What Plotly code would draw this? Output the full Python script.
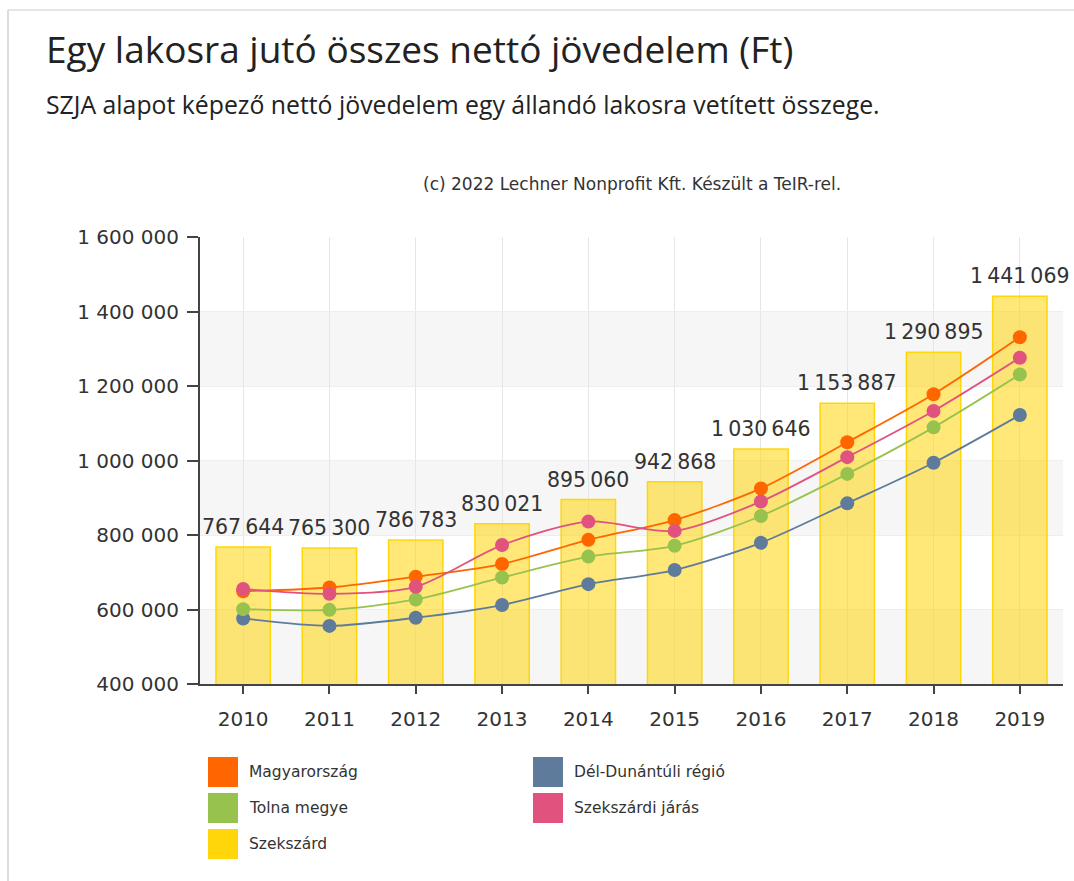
import plotly.graph_objects as go

years = ["2010", "2011", "2012", "2013", "2014", "2015", "2016", "2017", "2018", "2019"]
szekszard = [767644, 765300, 786783, 830021, 895060, 942868, 1030646, 1153887, 1290895, 1441069]
magyarorszag = [649000, 659000, 688000, 722000, 787000, 840000, 925000, 1049000, 1178000, 1331000]
del_dunantul = [576000, 556000, 578000, 612000, 668000, 706000, 779000, 885000, 994000, 1122000]
tolna = [601000, 599000, 627000, 686000, 742000, 771000, 851000, 964000, 1089000, 1231000]
szekszardi_jaras = [655000, 642000, 661000, 773000, 836000, 811000, 890000, 1009000, 1133000, 1276000]

y_ticks = [400000, 600000, 800000, 1000000, 1200000, 1400000, 1600000]

title = "Egy lakosra jutó összes nettó jövedelem (Ft)"
subtitle = "SZJA alapot képező nettó jövedelem egy állandó lakosra vetített összege."
credit = "(c) 2022 Lechner Nonprofit Kft. Készült a TeIR-rel."

C_ORANGE = "#FF6600"
C_GREEN = "#98C24E"
C_BLUE = "#5F7B9C"
C_PINK = "#E0537F"
C_YELLOW = "#FFD60A"

W, H = 1074, 881
ML, MR, MT, MB = 200, 11, 237, 197
PW = W - ML - MR
PH = H - MT - MB


def px(xp):
    return (xp - ML) / PW


def py(yp):
    return (H - MB - yp) / PH


def fmt(v):
    return f"{v:,}".replace(",", "\u2009")


fig = go.Figure()

fig.add_trace(go.Bar(
    x=years, y=szekszard, name="Szekszárd",
    marker=dict(color="rgba(255,214,10,0.55)", line=dict(color=C_YELLOW, width=1.5)),
    width=0.63, showlegend=False,
))

lines = [
    ("Magyarország", magyarorszag, C_ORANGE),
    ("Dél-Dunántúli régió", del_dunantul, C_BLUE),
    ("Tolna megye", tolna, C_GREEN),
    ("Szekszárdi járás", szekszardi_jaras, C_PINK),
]
for name, vals, col in lines:
    fig.add_trace(go.Scatter(
        x=years, y=vals, name=name, mode="lines+markers",
        line=dict(color=col, width=1.8, shape="spline", smoothing=0.8),
        marker=dict(color=col, size=14),
        showlegend=False, cliponaxis=False,
    ))

shapes = []
for lo in [400000, 800000, 1200000]:
    shapes.append(dict(type="rect", xref="paper", yref="y", x0=0, x1=1, y0=lo, y1=lo + 200000,
                       fillcolor="#f6f6f6", line=dict(width=0), layer="below"))
shapes.append(dict(type="line", xref="paper", yref="paper", x0=px(8), x1=px(1074), y0=py(10), y1=py(10),
                   line=dict(color="#dcdcdc", width=1.5)))
shapes.append(dict(type="line", xref="paper", yref="paper", x0=px(8), x1=px(8), y0=py(10), y1=py(881),
                   line=dict(color="#d0d0d0", width=1.5)))

annotations = []
# bar value labels (category index positions on the x axis)
for i, v in enumerate(szekszard):
    annotations.append(dict(x=i, y=v, xref="x", yref="y", text=fmt(v), showarrow=False,
                            yanchor="bottom", xanchor="center", yshift=6,
                            font=dict(family="DejaVu Sans", size=20.5, color="#333333")))

legend_items = [
    ("Magyarország", C_ORANGE, 0, 0),
    ("Dél-Dunántúli régió", C_BLUE, 1, 0),
    ("Tolna megye", C_GREEN, 0, 1),
    ("Szekszárdi járás", C_PINK, 1, 1),
    ("Szekszárd", C_YELLOW, 0, 2),
]
col_x = [208, 533]
row_y = [772, 808, 844]
for name, col, c, r in legend_items:
    x0 = col_x[c]
    yc = row_y[r]
    shapes.append(dict(type="rect", xref="paper", yref="paper",
                       x0=px(x0), x1=px(x0 + 30), y0=py(yc - 15), y1=py(yc + 15),
                       fillcolor=col, line=dict(width=0)))
    annotations.append(dict(x=px(x0 + 39), y=py(yc), xref="paper", yref="paper", text=name,
                            showarrow=False, xanchor="left", yanchor="middle",
                            font=dict(family="DejaVu Sans", size=15.5, color="#333333")))

annotations.append(dict(x=px(44), y=py(48), xref="paper", yref="paper", text=title, showarrow=False,
                        xanchor="left", yanchor="middle",
                        font=dict(family="Open Sans", size=37, color="#222222")))
annotations.append(dict(x=px(44), y=py(104), xref="paper", yref="paper", text=subtitle, showarrow=False,
                        xanchor="left", yanchor="middle",
                        font=dict(family="Open Sans", size=24.8, color="#222222")))
annotations.append(dict(x=px(632), y=py(184), xref="paper", yref="paper", text=credit, showarrow=False,
                        xanchor="center", yanchor="middle",
                        font=dict(family="DejaVu Sans", size=17, color="#333333")))

fig.update_layout(
    width=W, height=H,
    margin=dict(l=ML, r=MR, t=MT, b=MB, autoexpand=False),
    paper_bgcolor="white", plot_bgcolor="white",
    separators=". ",
    shapes=shapes, annotations=annotations,
    xaxis=dict(
        type="category", range=[-0.5, 9.5],
        showgrid=True, gridcolor="#e6e6e6", gridwidth=1,
        showline=True, linecolor="#444444", linewidth=2,
        ticks="outside", ticklen=8, tickwidth=2, tickcolor="#444444",
        ticklabelstandoff=8,
        tickfont=dict(family="DejaVu Sans", size=20, color="#333333"),
        zeroline=False,
    ),
    yaxis=dict(
        range=[400000, 1600000], tickvals=y_ticks, tickformat=",d",
        showgrid=True, gridcolor="#eeeeee", gridwidth=1,
        showline=True, linecolor="#444444", linewidth=2,
        ticks="outside", ticklen=11, tickwidth=2, tickcolor="#444444",
        ticklabelstandoff=4,
        tickfont=dict(family="DejaVu Sans", size=20, color="#333333"),
        zeroline=False,
    ),
)

fig.write_html("out.html", config={"displayModeBar": False},
               post_script="document.body.style.margin='0';document.body.style.overflow='hidden';")
